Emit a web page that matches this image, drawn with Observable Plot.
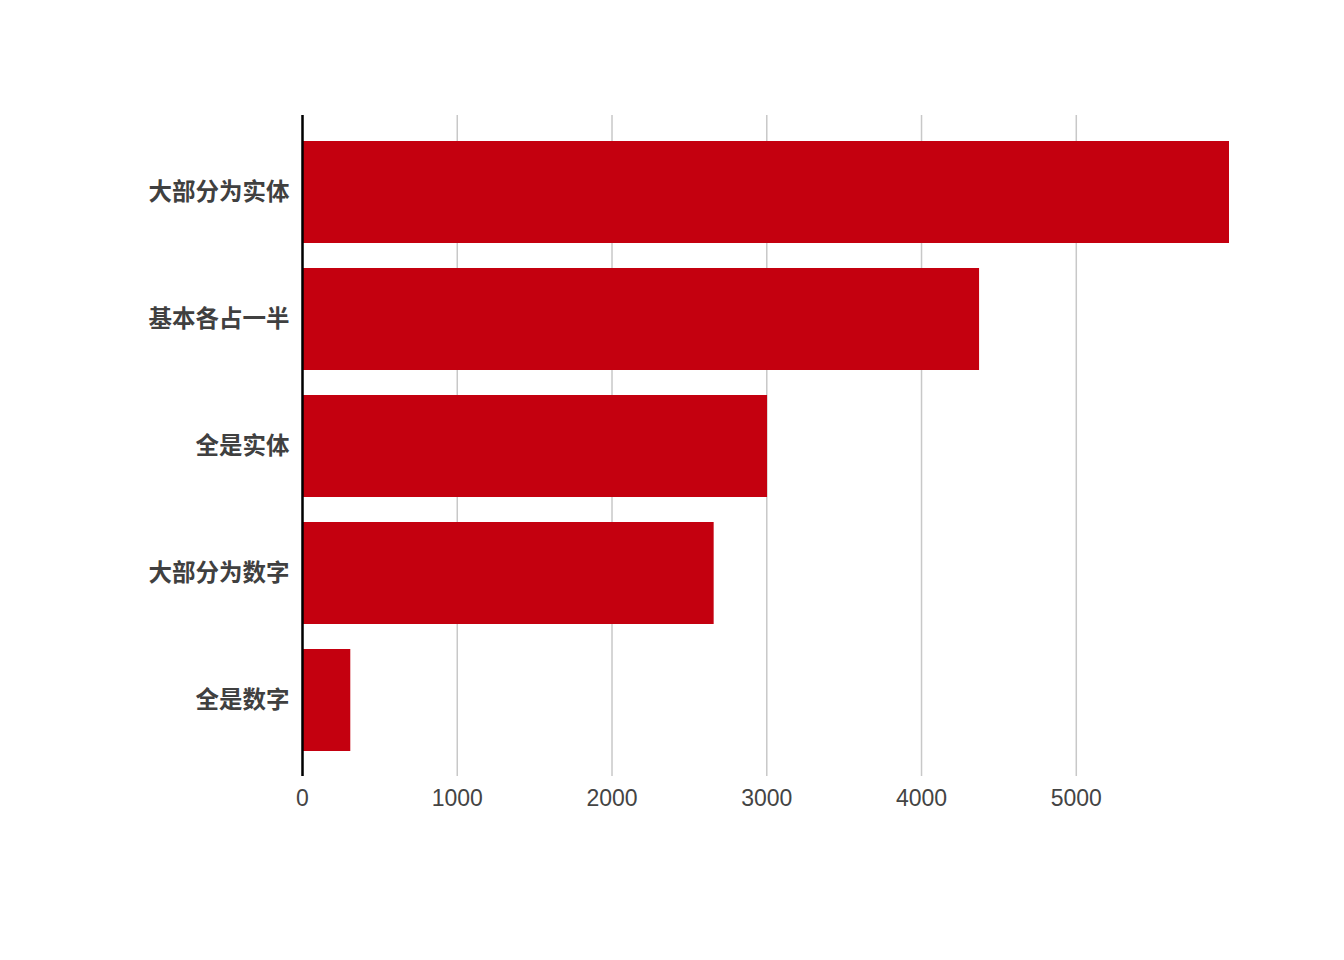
<!DOCTYPE html>
<html>
<head>
<meta charset="utf-8">
<script src="https://cdn.jsdelivr.net/npm/d3@7"></script>
<script src="https://cdn.jsdelivr.net/npm/@observablehq/plot@0.6"></script>
<style>
  html, body { margin: 0; padding: 0; background: #fff; }
  #chart svg { display: block; }
</style>
</head>
<body>
<div id="chart"></div>
<script>
const categories = ["大部分为实体", "基本各占一半", "全是实体", "大部分为数字", "全是数字"];
const values = [5990, 4375, 3005, 2660, 312];
const xTicks = [0, 1000, 2000, 3000, 4000, 5000];

const data = categories.map((c, i) => ({category: c, value: values[i]}));

const chart = Plot.plot({
  width: 1344,
  height: 960,
  marginLeft: 302,
  marginRight: 115,
  marginTop: 115,
  marginBottom: 184,
  style: {background: "#fff"},
  x: {domain: [0, d3.max(values)]},
  y: {domain: categories, padding: 0.2},
  marks: [
    Plot.gridX(xTicks, {stroke: "#c8c8c8", strokeOpacity: 1, strokeWidth: 1.5}),
    Plot.barX(data, {x: "value", y: "category", fill: "#c4000f"}),
    Plot.ruleX([0], {stroke: "#000", strokeWidth: 2.5}),
    Plot.axisX(xTicks, {
      tickSize: 0, tickPadding: 13, fontSize: 23, fill: "#444",
      fontFamily: "Liberation Sans, Arial, sans-serif", label: null,
      tickFormat: d => String(d)
    }),
    Plot.axisY({
      tickSize: 0, tickPadding: 13, fontSize: 23.5, fontWeight: "bold", fill: "#404040",
      fontFamily: "Noto Sans CJK SC, sans-serif", label: null
    })
  ]
});
document.getElementById("chart").appendChild(chart);
</script>
</body>
</html>
